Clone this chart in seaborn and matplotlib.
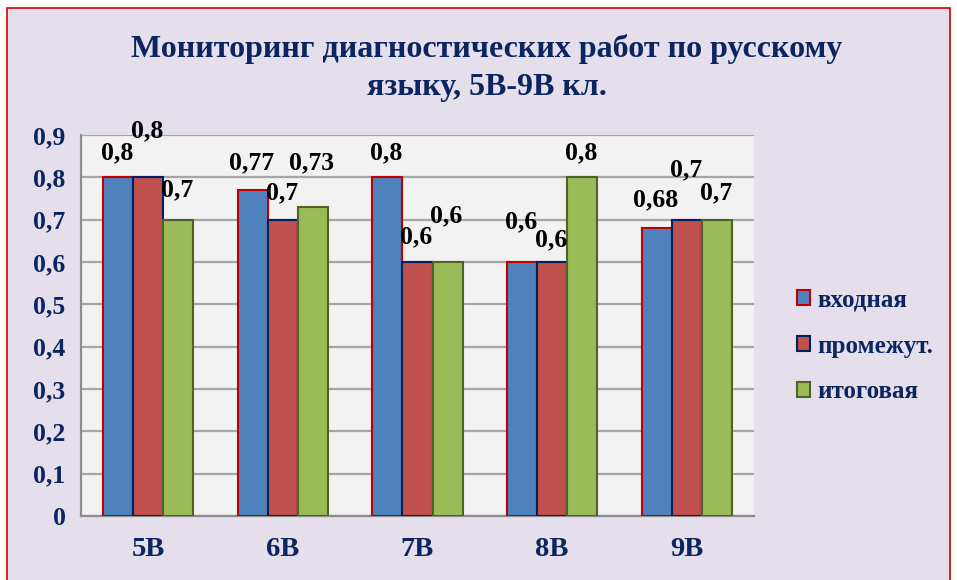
import pandas as pd
import matplotlib.pyplot as plt
import seaborn as sns
from matplotlib.patches import Rectangle, Patch

# данные
klassy = ["5В", "6В", "7В", "8В", "9В"]
vhodnaya = [0.8, 0.77, 0.8, 0.6, 0.68]
promezh = [0.8, 0.7, 0.6, 0.6, 0.7]
itogovaya = [0.7, 0.73, 0.6, 0.8, 0.7]
serii = ["входная", "промежут.", "итоговая"]

# подъём подписей над столбцами (пиксели), как в оригинале
label_dy = [
    [25, 27, 25, 40, 28],
    [47, 27, 25, 22, 50],
    [30, 44, 46, 25, 27],
]

fill_colors = ["#4f81bd", "#c0504d", "#9bbb59"]
edge_colors = ["#c00000", "#002060", "#4f6228"]
navy = "#0b2560"

df = pd.DataFrame({
    "класс": klassy * 3,
    "значение": vhodnaya + promezh + itogovaya,
    "серия": [s for s in serii for _ in klassy],
})

sns.set_style("white")
plt.rcParams["font.family"] = ["Liberation Serif", "DejaVu Serif"]
plt.rcParams["font.weight"] = "bold"

fig = plt.figure(figsize=(9.57, 5.80), dpi=100)
fig.patch.set_facecolor("white")
# фон и рамка
fig.patches.append(Rectangle((7 / 957, -0.05), 943 / 957, 1.05 - 8 / 580,
                             transform=fig.transFigure, facecolor="#e5dfec",
                             edgecolor="#d00000", linewidth=1.2, zorder=-10))

ax = fig.add_axes([81 / 957, 64 / 580, 673 / 957, 381 / 580])
ax.set_facecolor("#f2f2f2")

sns.barplot(data=df, x="класс", y="значение", hue="серия", palette=fill_colors,
            width=0.67, ax=ax, legend=False, saturation=1, zorder=3)

for i, cont in enumerate(ax.containers):
    for j, bar in enumerate(cont):
        bar.set_edgecolor(edge_colors[i])
        bar.set_linewidth(1.5)
        h = bar.get_height()
        txt = f"{h:g}".replace(".", ",")
        ax.annotate(txt, (bar.get_x() + bar.get_width() / 2, h),
                    xytext=(-1, label_dy[i][j]), textcoords="offset pixels",
                    ha="center", va="center", fontsize=18.5, fontweight="bold",
                    color="black", zorder=5)

ax.set_ylim(0, 0.9)
ax.set_xlim(-0.5, 4.5)
yt = [k / 10 for k in range(10)]
ax.set_yticks(yt)
ax.set_yticklabels([f"{v:g}".replace(".", ",") for v in yt])
ax.yaxis.grid(True, color="#a6a6a6", linewidth=1.6, zorder=0)
ax.set_axisbelow(True)

ax.set_xticks(range(5))
ax.set_xticklabels(klassy)
ax.set_xticks([k - 0.5 for k in range(6)], minor=True)
ax.tick_params(axis="x", which="major", length=0, pad=15, labelsize=20.5, labelcolor=navy)
ax.tick_params(axis="x", which="minor", length=7, width=1.5, color="#8c8c8c", direction="out")
ax.tick_params(axis="y", length=7, width=1.5, color="#8c8c8c", direction="out",
               labelsize=18.5, labelcolor=navy, pad=4)
for lab in ax.get_xticklabels() + ax.get_yticklabels():
    lab.set_fontweight("bold")

for s in ["top", "right"]:
    ax.spines[s].set_visible(False)
for s in ["left", "bottom"]:
    ax.spines[s].set_color("#8c8c8c")
    ax.spines[s].set_linewidth(1.6)
ax.set_xlabel("")
ax.set_ylabel("")

fig.text(487 / 957, 1 - 68 / 580,
         "Мониторинг диагностических работ по русскому\nязыку, 5В-9В кл.",
         ha="center", va="center", fontsize=23, fontweight="bold", color=navy,
         linespacing=1.4)

handles = [Patch(facecolor=fill_colors[i], edgecolor=edge_colors[i], linewidth=1.5)
           for i in range(3)]
leg = fig.legend(handles, serii, loc="center left", bbox_to_anchor=(774 / 957, 1 - 346 / 580),
                 frameon=False, fontsize=18, handlelength=0.55, handleheight=0.55,
                 handletextpad=0.3, labelspacing=0.92)
for t in leg.get_texts():
    t.set_color(navy)
    t.set_fontweight("bold")

fig.savefig("out.png", dpi=100)
